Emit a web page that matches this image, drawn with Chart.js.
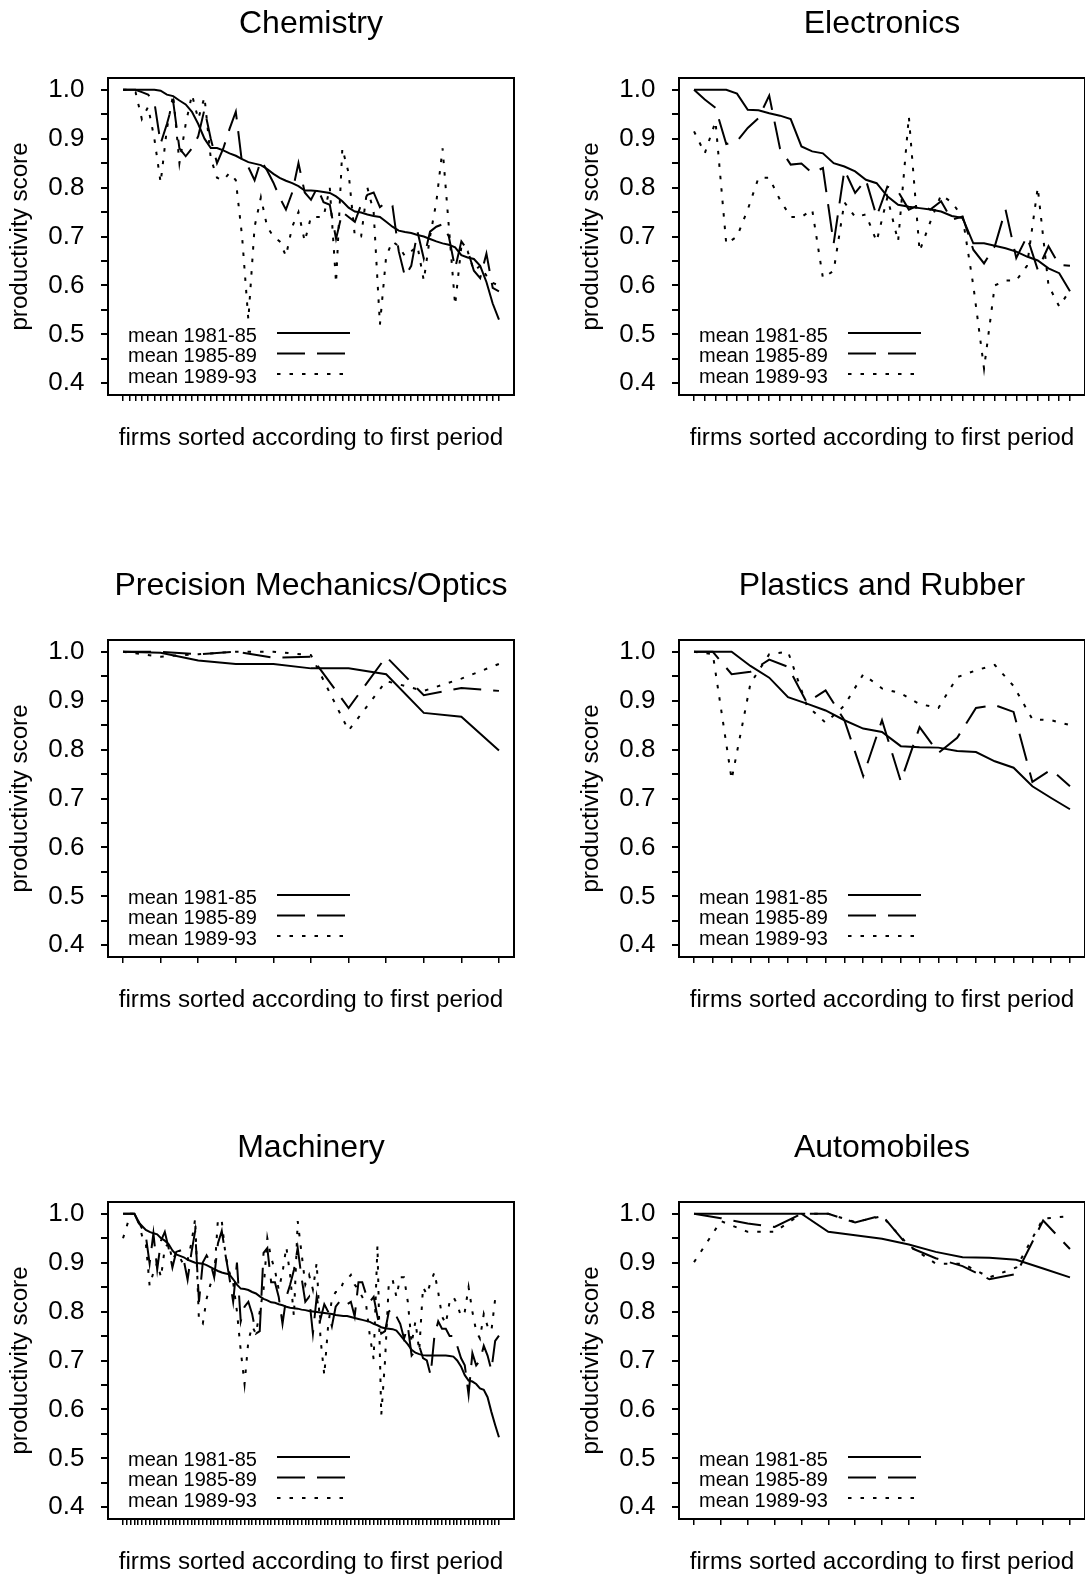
<!DOCTYPE html>
<html>
<head>
<meta charset="utf-8">
<title>productivity scores by industry</title>
<script src="https://cdn.jsdelivr.net/npm/chart.js@4.4.1/dist/chart.umd.min.js"></script>
<style>
  html, body { margin: 0; padding: 0; background: #fff; overflow: hidden; }
  body { position: relative; width: 1085px; height: 1577px; }
  canvas { position: absolute; }
</style>
</head>
<body>
<canvas id="p0" width="545" height="470" style="left:0px;top:1px"></canvas>
<canvas id="p1" width="545" height="470" style="left:571px;top:1px"></canvas>
<canvas id="p2" width="545" height="470" style="left:0px;top:563px"></canvas>
<canvas id="p3" width="545" height="470" style="left:571px;top:563px"></canvas>
<canvas id="p4" width="545" height="470" style="left:0px;top:1125px"></canvas>
<canvas id="p5" width="545" height="470" style="left:571px;top:1125px"></canvas>
<script>
const industries = ['Chemistry', 'Electronics', 'Precision Mechanics/Optics', 'Plastics and Rubber', 'Machinery', 'Automobiles'];
const periods = ['mean 1981-85', 'mean 1985-89', 'mean 1989-93'];
const yTicks = [0.4, 0.45, 0.5, 0.55, 0.6, 0.65, 0.7, 0.75, 0.8, 0.85, 0.9, 0.95, 1.0];

// firms are sorted by the 1981-85 score, one value per firm
const chem81 = [1.0, 1.0, 1.0, 1.0, 1.0, 1.0, 0.998, 0.99, 0.987, 0.978, 0.97, 0.955, 0.93, 0.90, 0.881, 0.881, 0.876, 0.87, 0.865, 0.858, 0.852, 0.849, 0.846, 0.838, 0.828, 0.82, 0.814, 0.809, 0.803, 0.794, 0.794, 0.793, 0.791, 0.789, 0.782, 0.772, 0.759, 0.751, 0.749, 0.745, 0.742, 0.74, 0.73, 0.72, 0.712, 0.709, 0.707, 0.703, 0.70, 0.695, 0.69, 0.686, 0.683, 0.678, 0.662, 0.657, 0.654, 0.64, 0.607, 0.563, 0.53];
const chem85 = [1.0, 1.0, 1.0, 0.995, 0.99, 0.975, 0.89, 0.93, 0.976, 0.88, 0.864, 0.88, 0.905, 0.96, 0.90, 0.85, 0.88, 0.92, 0.955, 0.85, 0.842, 0.815, 0.855, 0.835, 0.81, 0.78, 0.755, 0.79, 0.85, 0.79, 0.775, 0.80, 0.77, 0.765, 0.695, 0.75, 0.74, 0.73, 0.765, 0.785, 0.79, 0.76, 0.77, 0.763, 0.67, 0.618, 0.64, 0.71, 0.655, 0.71, 0.72, 0.725, 0.70, 0.635, 0.69, 0.672, 0.63, 0.615, 0.665, 0.595, 0.588];
const chem89 = [1.0, 1.0, 0.995, 0.94, 0.965, 0.90, 0.81, 0.92, 0.99, 0.85, 0.93, 0.99, 0.94, 0.985, 0.86, 0.82, 0.815, 0.83, 0.815, 0.70, 0.53, 0.72, 0.78, 0.72, 0.70, 0.69, 0.66, 0.72, 0.75, 0.69, 0.74, 0.74, 0.74, 0.80, 0.605, 0.88, 0.83, 0.70, 0.70, 0.80, 0.75, 0.52, 0.66, 0.69, 0.68, 0.66, 0.67, 0.68, 0.61, 0.70, 0.77, 0.88, 0.72, 0.56, 0.68, 0.67, 0.63, 0.64, 0.62, 0.605, 0.60];

const elec81 = [1.0, 1.0, 1.0, 1.0, 0.992, 0.959, 0.958, 0.952, 0.947, 0.94, 0.884, 0.874, 0.87, 0.85, 0.843, 0.833, 0.816, 0.809, 0.782, 0.765, 0.761, 0.758, 0.755, 0.751, 0.742, 0.738, 0.686, 0.686, 0.681, 0.676, 0.669, 0.659, 0.651, 0.635, 0.625, 0.588];
const elec85 = [1.0, 0.98, 0.963, 0.889, 0.895, 0.922, 0.942, 0.988, 0.88, 0.847, 0.849, 0.83, 0.84, 0.686, 0.836, 0.789, 0.816, 0.741, 0.802, 0.792, 0.755, 0.765, 0.755, 0.772, 0.734, 0.741, 0.673, 0.645, 0.68, 0.755, 0.656, 0.70, 0.632, 0.68, 0.642, 0.64];
const elec89 = [0.915, 0.87, 0.935, 0.685, 0.70, 0.755, 0.82, 0.82, 0.775, 0.74, 0.74, 0.755, 0.615, 0.63, 0.77, 0.74, 0.745, 0.69, 0.78, 0.69, 0.945, 0.67, 0.73, 0.785, 0.77, 0.74, 0.60, 0.43, 0.60, 0.61, 0.61, 0.64, 0.80, 0.60, 0.557, 0.59];

const prec81 = [1.0, 0.998, 0.982, 0.975, 0.975, 0.966, 0.966, 0.954, 0.875, 0.867, 0.798];
const prec85 = [1.0, 1.0, 0.995, 1.0, 0.988, 0.99, 0.885, 0.99, 0.911, 0.926, 0.92];
const prec89 = [1.0, 0.99, 0.995, 1.0, 1.0, 0.993, 0.839, 0.94, 0.92, 0.945, 0.975];

const plast81 = [1.0, 1.0, 1.0, 0.971, 0.947, 0.907, 0.894, 0.88, 0.86, 0.843, 0.836, 0.807, 0.805, 0.804, 0.797, 0.795, 0.776, 0.763, 0.725, 0.701, 0.678];
const plast85 = [1.0, 1.0, 0.954, 0.959, 0.984, 0.969, 0.896, 0.921, 0.86, 0.746, 0.86, 0.735, 0.846, 0.793, 0.824, 0.885, 0.891, 0.877, 0.734, 0.759, 0.725];
const plast89 = [1.0, 0.995, 0.739, 0.935, 0.995, 1.0, 0.89, 0.855, 0.89, 0.954, 0.925, 0.915, 0.893, 0.885, 0.948, 0.962, 0.973, 0.93, 0.862, 0.86, 0.85];

const mach81 = [1.0, 1.0, 1.0, 1.0, 0.983, 0.975, 0.967, 0.963, 0.96, 0.958, 0.95, 0.945, 0.938, 0.925, 0.917, 0.914, 0.911, 0.906, 0.903, 0.9, 0.899, 0.898, 0.895, 0.891, 0.887, 0.883, 0.88, 0.878, 0.876, 0.866, 0.855, 0.847, 0.846, 0.844, 0.84, 0.837, 0.831, 0.826, 0.823, 0.819, 0.818, 0.815, 0.813, 0.81, 0.808, 0.807, 0.806, 0.804, 0.803, 0.801, 0.80, 0.799, 0.798, 0.797, 0.796, 0.795, 0.793, 0.792, 0.791, 0.791, 0.789, 0.787, 0.785, 0.783, 0.781, 0.779, 0.775, 0.772, 0.768, 0.766, 0.765, 0.764, 0.761, 0.752, 0.742, 0.733, 0.722, 0.716, 0.713, 0.711, 0.71, 0.71, 0.71, 0.71, 0.71, 0.71, 0.709, 0.708, 0.70, 0.688, 0.67, 0.659, 0.657, 0.652, 0.643, 0.64, 0.625, 0.595, 0.568, 0.543];
const mach85 = [1.0, 1.0, 1.0, 1.0, 0.985, 0.97, 0.955, 0.898, 0.96, 0.886, 0.945, 0.963, 0.93, 0.89, 0.922, 0.925, 0.905, 0.865, 0.92, 0.965, 0.82, 0.9, 0.915, 0.9, 0.87, 0.94, 0.965, 0.915, 0.87, 0.82, 0.9, 0.78, 0.81, 0.82, 0.795, 0.755, 0.76, 0.92, 0.93, 0.86, 0.86, 0.83, 0.775, 0.83, 0.855, 0.885, 0.93, 0.87, 0.82, 0.83, 0.755, 0.83, 0.785, 0.815, 0.8, 0.77, 0.81, 0.82, 0.81, 0.815, 0.82, 0.79, 0.86, 0.86, 0.835, 0.82, 0.83, 0.79, 0.755, 0.76, 0.8, 0.806, 0.79, 0.775, 0.745, 0.77, 0.71, 0.72, 0.73, 0.705, 0.70, 0.67, 0.75, 0.78, 0.765, 0.765, 0.75, 0.75, 0.73, 0.705, 0.69, 0.63, 0.715, 0.69, 0.70, 0.73, 0.71, 0.68, 0.74, 0.751];
const mach89 = [0.95, 0.975, 1.0, 1.0, 0.985, 0.955, 0.94, 0.853, 0.88, 0.9, 0.87, 0.93, 0.94, 0.905, 0.92, 0.91, 0.895, 0.905, 0.94, 0.99, 0.78, 0.775, 0.826, 0.855, 0.87, 0.99, 0.985, 0.915, 0.88, 0.86, 0.80, 0.72, 0.652, 0.74, 0.77, 0.755, 0.80, 0.845, 0.95, 0.91, 0.885, 0.845, 0.88, 0.932, 0.875, 0.79, 0.985, 0.92, 0.855, 0.875, 0.845, 0.90, 0.745, 0.67, 0.77, 0.826, 0.84, 0.84, 0.86, 0.865, 0.875, 0.855, 0.845, 0.83, 0.815, 0.75, 0.703, 0.935, 0.588, 0.70, 0.86, 0.865, 0.83, 0.87, 0.87, 0.82, 0.735, 0.78, 0.72, 0.85, 0.835, 0.86, 0.88, 0.84, 0.79, 0.775, 0.82, 0.83, 0.815, 0.79, 0.80, 0.85, 0.80, 0.76, 0.745, 0.795, 0.77, 0.76, 0.826, 0.83];

const auto81 = [1.0, 1.0, 1.0, 1.0, 1.0, 0.963, 0.956, 0.949, 0.937, 0.922, 0.911, 0.91, 0.906, 0.888, 0.87];
const auto85 = [1.0, 0.991, 0.98, 0.973, 1.0, 1.0, 0.982, 0.997, 0.932, 0.909, 0.893, 0.866, 0.877, 0.986, 0.928];
const auto89 = [0.901, 0.985, 0.963, 0.963, 1.0, 1.0, 0.983, 0.995, 0.935, 0.898, 0.898, 0.87, 0.89, 0.99, 0.995];

const panelSeries = [
    [chem81, chem85, chem89],
    [elec81, elec85, elec89],
    [prec81, prec85, prec89],
    [plast81, plast85, plast89],
    [mach81, mach85, mach89],
    [auto81, auto85, auto89]
];

const FONT = "'Liberation Sans', Arial, Helvetica, sans-serif";
const dashes = [[], [28, 12], [3.5, 9]];

// box round the plot region plus the little legend in the lower left corner
const frameAndKey = {
    id: 'frameAndKey',
    afterDraw(chart) {
        const { ctx, chartArea: a } = chart;
        ctx.save();
        ctx.strokeStyle = '#000';
        ctx.fillStyle = '#000';
        ctx.lineWidth = 2;
        ctx.strokeRect(a.left, a.top, a.right - a.left, a.bottom - a.top);

        ctx.font = '20px ' + FONT;
        ctx.textBaseline = 'middle';
        ctx.textAlign = 'left';
        chart.data.datasets.forEach((ds, k) => {
            const y = a.bottom - 59 + k * 20.5;
            ctx.fillText(ds.label, a.left + 20, y);
            ctx.setLineDash(ds.borderDash);
            ctx.beginPath();
            ctx.moveTo(a.left + 169, y - 3);
            ctx.lineTo(a.left + 242, y - 3);
            ctx.stroke();
        });
        ctx.restore();
    }
};

function drawPanel(idx) {
    const series = panelSeries[idx];
    const n = series[0].length;
    const firms = series[0].map((_, i) => i + 1);
    const pad = 0.04 * (n - 1);

    const ctx = document.getElementById('p' + idx).getContext('2d');
    return new Chart(ctx, {
        type: 'line',
        data: {
            datasets: series.map((vals, k) => ({
                label: periods[k],
                data: vals.map((v, i) => ({ x: firms[i], y: v })),
                borderColor: '#000',
                borderWidth: 2,
                borderDash: dashes[k],
                pointRadius: 0,
                tension: 0,
                fill: false
            }))
        },
        options: {
            responsive: false,
            animation: false,
            devicePixelRatio: 1,
            layout: { padding: { left: 0, right: 31, top: 0, bottom: 0 } },
            plugins: {
                legend: { display: false },
                tooltip: { enabled: false },
                title: {
                    display: true,
                    text: industries[idx],
                    fullSize: false,
                    color: '#000',
                    font: { family: FONT, size: 32, weight: 'normal' },
                    padding: { top: 4.4, bottom: 34.2 }
                }
            },
            scales: {
                x: {
                    type: 'linear',
                    min: 1 - pad,
                    max: n + pad,
                    afterBuildTicks: (s) => { s.ticks = firms.map(v => ({ value: v })); },
                    afterFit: (s) => { s.height = 76; },
                    ticks: { autoSkip: false, callback: () => '' },
                    grid: { drawOnChartArea: false, tickLength: 6, color: '#000', lineWidth: 1.5 },
                    border: { display: false },
                    title: {
                        display: true,
                        text: 'firms sorted according to first period',
                        color: '#000',
                        font: { family: FONT, size: 24.2 },
                        padding: { top: 0, bottom: 18 }
                    }
                },
                y: {
                    min: 0.376,
                    max: 1.024,
                    afterBuildTicks: (s) => { s.ticks = yTicks.map(v => ({ value: v })); },
                    afterFit: (s) => { s.width = 108; },
                    ticks: {
                        autoSkip: false,
                        padding: 16.5,
                        color: '#000',
                        font: { family: FONT, size: 26 },
                        callback: (v) => (Math.round(v * 100) % 10 === 0 ? v.toFixed(1) : '')
                    },
                    grid: { drawOnChartArea: false, tickLength: 7, color: '#000', lineWidth: 2 },
                    border: { display: false },
                    title: {
                        display: true,
                        text: 'productivity score',
                        color: '#000',
                        font: { family: FONT, size: 24.2 },
                        padding: { top: 5.6, bottom: 0 }
                    }
                }
            }
        },
        plugins: [frameAndKey]
    });
}

industries.forEach((_, i) => drawPanel(i));
</script>
</body>
</html>
